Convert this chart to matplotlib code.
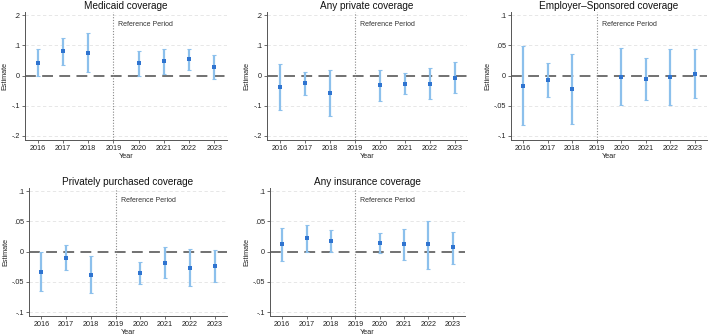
import matplotlib
matplotlib.use("Agg")
import matplotlib.pyplot as plt
import numpy as np

plt.rcParams['font.family'] = ['Liberation Sans', 'DejaVu Sans']

years = [2016, 2017, 2018, 2020, 2021, 2022, 2023]
xtick_years = [2016, 2017, 2018, 2019, 2020, 2021, 2022, 2023]

titles = ["Medicaid coverage", "Any private coverage", "Employer\u2013Sponsored coverage",
          "Privately purchased coverage", "Any insurance coverage"]

medicaid_est = [0.042, 0.080, 0.076, 0.041, 0.048, 0.053, 0.028]
medicaid_lo = [0.000, 0.036, 0.010, 0.000, 0.006, 0.019, -0.013]
medicaid_hi = [0.089, 0.124, 0.142, 0.082, 0.089, 0.087, 0.067]

private_est = [-0.038, -0.026, -0.058, -0.033, -0.027, -0.028, -0.009]
private_lo = [-0.113, -0.063, -0.133, -0.083, -0.060, -0.078, -0.059]
private_hi = [0.039, 0.011, 0.017, 0.017, 0.009, 0.024, 0.043]

employer_est = [-0.017, -0.007, -0.023, -0.002, -0.006, -0.002, 0.003]
employer_lo = [-0.082, -0.036, -0.080, -0.049, -0.041, -0.049, -0.038]
employer_hi = [0.048, 0.021, 0.035, 0.046, 0.029, 0.043, 0.043]

purchased_est = [-0.034, -0.010, -0.038, -0.035, -0.018, -0.027, -0.024]
purchased_lo = [-0.066, -0.031, -0.069, -0.053, -0.043, -0.057, -0.051]
purchased_hi = [-0.001, 0.011, -0.007, -0.017, 0.007, 0.004, 0.002]

anyins_est = [0.012, 0.022, 0.017, 0.014, 0.012, 0.012, 0.007]
anyins_lo = [-0.016, -0.001, -0.001, -0.003, -0.014, -0.028, -0.021]
anyins_hi = [0.039, 0.044, 0.036, 0.031, 0.038, 0.051, 0.033]

yticks_wide = [-0.2, -0.1, 0.0, 0.1, 0.2]
yticklabels_wide = ["-.2", "-.1", "0", ".1", ".2"]
yticks_narrow = [-0.1, -0.05, 0.0, 0.05, 0.1]
yticklabels_narrow = ["-.1", "-.05", "0", ".05", ".1"]

panels = [
    (medicaid_est, medicaid_lo, medicaid_hi, yticks_wide, yticklabels_wide),
    (private_est, private_lo, private_hi, yticks_wide, yticklabels_wide),
    (employer_est, employer_lo, employer_hi, yticks_narrow, yticklabels_narrow),
    (purchased_est, purchased_lo, purchased_hi, yticks_narrow, yticklabels_narrow),
    (anyins_est, anyins_lo, anyins_hi, yticks_narrow, yticklabels_narrow),
]

W, H = 709, 335
# axes boxes in pixels: (left, right, top, bottom)
boxes = [
    (25, 227, 11.7, 140),
    (267, 467, 11.7, 140),
    (511, 707, 11.7, 140),
    (29, 227, 188, 316),
    (270, 465, 188, 316),
]

fig = plt.figure(figsize=(W / 100, H / 100), dpi=100)
fig.patch.set_facecolor('white')

err_color = '#8cc0ec'
pt_color = '#2f74d0'
spine_color = '#555555'

for (est, lo, hi, yt, ytl), title, (l, r, t, b) in zip(panels, titles, boxes):
    ax = fig.add_axes([l / W, 1 - b / H, (r - l) / W, (b - t) / H])
    span = yt[-1] - yt[0]
    per_px = span / 121.0
    ax.set_ylim(yt[0] - 4 * per_px, yt[-1] + 3.3 * per_px)
    ax.set_xlim(2015.5, 2023.5)
    est = np.array(est); lo = np.array(lo); hi = np.array(hi)
    for y in yt:
        if y != 0:
            ax.axhline(y, color='#e3e3e3', lw=0.6, ls=(0, (4, 3)), zorder=0)
    ax.axhline(0, color='#666666', lw=1.3, ls=(0, (6, 3.5)), zorder=1)
    ax.axvline(2019, color='#888888', lw=0.8, ls=(0, (1, 1.5)), zorder=1)
    ax.errorbar(years, est, yerr=[est - lo, hi - est], fmt='none', ecolor=err_color,
                elinewidth=1.6, capsize=1.5, capthick=0.8, zorder=2)
    ax.plot(years, est, 's', color=pt_color, ms=2.5, zorder=3, mec=pt_color, mew=0)
    ax.text(2019.2, yt[-1] - 0.13 * (yt[-1] - yt[2]) * 1.15, "Reference Period",
            fontsize=5, color='#333333', va='center', ha='left')
    ax.set_xticks(xtick_years)
    ax.set_xticklabels([str(y) for y in xtick_years])
    ax.set_yticks(yt)
    ax.set_yticklabels(ytl)
    ax.tick_params(axis='both', labelsize=5.2, length=2, width=0.6, color=spine_color,
                   pad=1.5, labelcolor='#222222')
    for s in ['top', 'right']:
        ax.spines[s].set_visible(False)
    for s in ['left', 'bottom']:
        ax.spines[s].set_color(spine_color)
        ax.spines[s].set_linewidth(0.7)
    ax.set_xlabel("Year", fontsize=5.2, labelpad=0.8, color='#222222')
    ax.set_ylabel("Estimate", fontsize=5.2, labelpad=2, color='#222222')
    ax.set_title(title, fontsize=7.2, pad=2, color='#111111')

fig.savefig("out.png", dpi=100, facecolor='white')
